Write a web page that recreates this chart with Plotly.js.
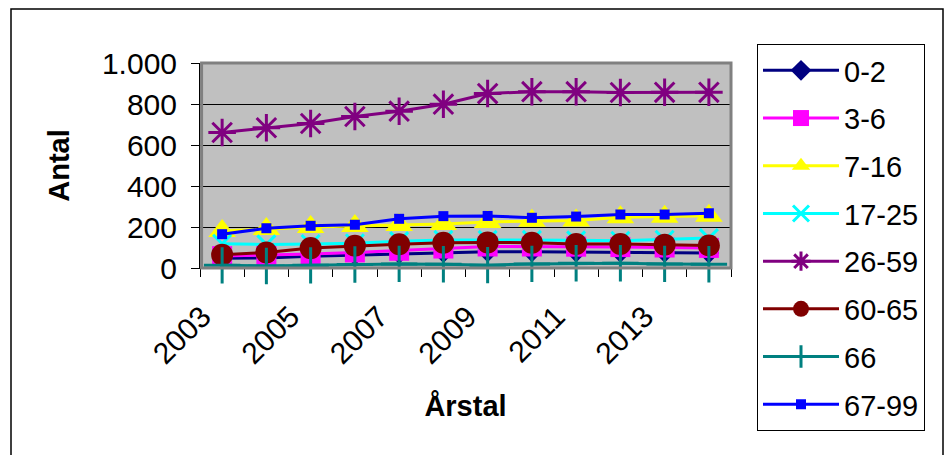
<!DOCTYPE html>
<html>
<head>
<meta charset="utf-8">
<script src="https://cdn.plot.ly/plotly-3.0.1.min.js"></script>
<style>
  html, body { margin: 0; padding: 0; background: #fff; }
  #chart { width: 949px; height: 455px; }
</style>
</head>
<body>
<div id="chart"></div>
<script>
// ---- data ----
const years = [2003, 2004, 2005, 2006, 2007, 2008, 2009, 2010, 2011, 2012, 2013, 2014];
const seriesNames = ['0-2','3-6','7-16','17-25','26-59','60-65','66','67-99'];
const v0_2   = [48, 49, 57, 63, 70, 75, 79, 79, 78, 76, 76, 73];
const v3_6   = [58, 62, 68, 76, 84, 95, 105, 105, 104, 102, 100, 98];
const v7_16  = [180, 190, 200, 205, 210, 215, 225, 230, 232, 248, 250, 255];
const v17_25 = [118, 115, 117, 121, 131, 137, 137, 137, 135, 133, 138, 146];
const v26_59 = [661, 684, 705, 739, 765, 799, 851, 860, 860, 856, 857, 857];
const v60_65 = [65, 76, 97, 108, 116, 123, 125, 123, 117, 117, 114, 110];
const v66    = [13, 10, 13, 17, 20, 18, 14, 20, 23, 23, 20, 18];
const v67_99 = [165, 194, 206, 211, 240, 253, 254, 245, 251, 261, 261, 267];
const yTicks = [0, 200, 400, 600, 800, 1000];
const xLabelYears = years.filter((y, i) => i % 2 === 0);
const xBoundaries = years.map(y => y - 0.5).concat([years[years.length - 1] + 0.5]);

// ---- styles ----
const values = [v0_2, v3_6, v7_16, v17_25, v26_59, v60_65, v66, v67_99];
const colors = ['#000080','#FF00FF','#FFFF00','#00FFFF','#800080','#800000','#008080','#0000FF'];
const symbols = ['diamond','square','triangle-up','x-thin-open','asterisk-open','circle','cross-thin-open','square'];
const sizes = [16, 20, 24, 18, 23, 22, 26, 10];

const traces = seriesNames.map((name, i) => ({
  type: 'scatter',
  mode: 'lines+markers',
  name: name,
  legendgroup: 'g' + i,
  x: years,
  y: values[i],
  line: { color: colors[i], width: 3 },
  marker: {
    symbol: symbols[i],
    size: sizes[i],
    color: colors[i],
    line: { color: colors[i], width: (symbols[i].indexOf('open') >= 0 ? 3 : 0) }
  },
  cliponaxis: false
}));

const fontFam = '"Liberation Sans", Arial, sans-serif';
const W = 949, H = 455;
const L = 200, R = 218, T = 63, B = 187;
const pw = W - L - R, ph = H - T - B;
const px = x => (x - L) / pw;
const py = y => (H - B - y) / ph;

const layout = {
  width: W, height: H,
  margin: { l: L, r: R, t: T, b: B, pad: 0 },
  paper_bgcolor: '#ffffff',
  plot_bgcolor: '#C0C0C0',
  separators: ',.',
  font: { family: fontFam, size: 29, color: '#000' },
  showlegend: true,
  legend: {
    x: px(757), y: py(44), xanchor: 'left', yanchor: 'top',
    bgcolor: '#ffffff', bordercolor: '#000', borderwidth: 1,
    font: { family: fontFam, size: 29, color: '#000' },
    tracegroupgap: 7,
    itemwidth: 76,
    traceorder: 'grouped',
    maxheight: 440
  },
  xaxis: {
    type: 'linear',
    range: [xBoundaries[0], xBoundaries[xBoundaries.length - 1]],
    tickmode: 'array',
    tickvals: xLabelYears,
    ticktext: xLabelYears.map(String),
    ticks: '',
    minor: { tickmode: 'array', tickvals: xBoundaries, ticks: 'outside', ticklen: 8, tickcolor: '#000', tickwidth: 1, showgrid: false },
    tickangle: -45,
    ticklabelstandoff: 18,
    ticklabelshift: -20,
    showline: true, linecolor: '#000', linewidth: 1,
    showgrid: false, zeroline: false,
    tickfont: { family: fontFam, size: 30, color: '#000' },
    title: { text: 'Årstal', font: { family: fontFam, size: 29, color: '#000', weight: 'bold' }, standoff: 26 },
    automargin: false,
    fixedrange: true
  },
  yaxis: {
    range: [0, 1000],
    tickmode: 'array',
    tickvals: yTicks,
    tickformat: ',d',
    ticks: 'outside', ticklen: 8, tickcolor: '#000', tickwidth: 1,
    ticklabelstandoff: 8,
    showline: true, linecolor: '#000', linewidth: 1,
    showgrid: true, gridcolor: '#000', gridwidth: 1,
    zeroline: false,
    tickfont: { family: fontFam, size: 30, color: '#000' },
    title: { text: 'Antal', font: { family: fontFam, size: 29, color: '#000', weight: 'bold' }, standoff: 23 },
    automargin: false,
    fixedrange: true
  },
  shapes: [
    { type: 'rect', xref: 'paper', yref: 'paper', x0: 0.003, x1: 1, y0: 0, y1: 1,
      line: { color: '#808080', width: 3 }, fillcolor: 'rgba(0,0,0,0)', layer: 'above' },
    { type: 'rect', xref: 'paper', yref: 'paper', x0: px(11), x1: px(943), y0: py(470), y1: py(9),
      line: { color: '#000', width: 1.5 }, fillcolor: 'rgba(0,0,0,0)', layer: 'below' }
  ]
};

Plotly.newPlot('chart', traces, layout, { displayModeBar: false, staticPlot: true });
</script>
</body>
</html>
